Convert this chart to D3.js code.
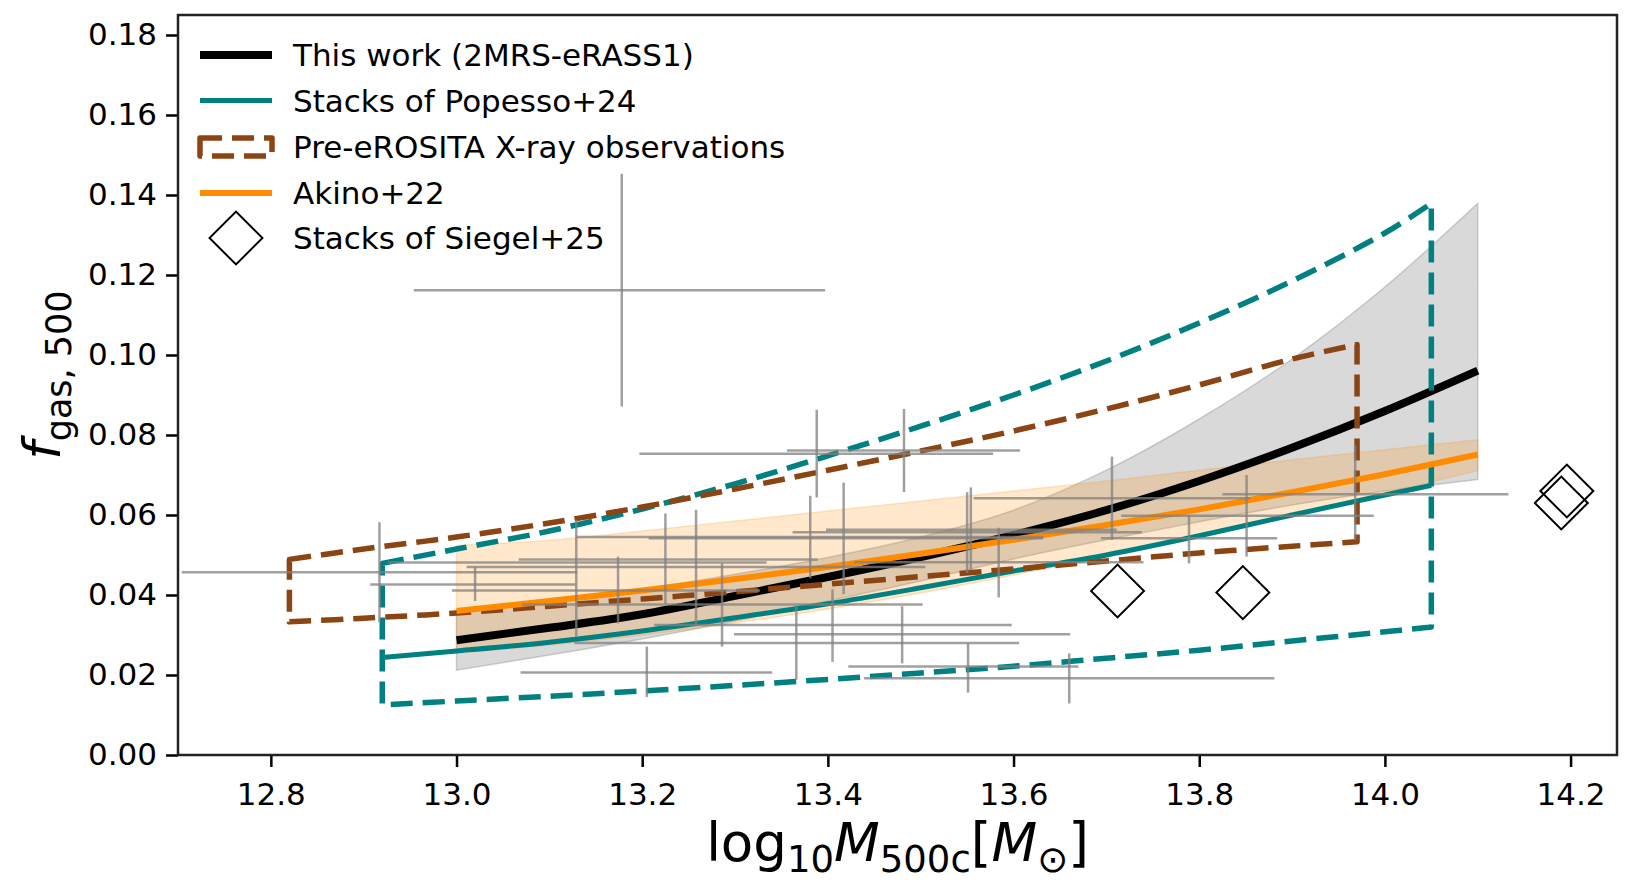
<!DOCTYPE html>
<html>
<head>
<meta charset="utf-8">
<script src="https://cdn.jsdelivr.net/npm/d3@7"></script>
<style>
body { margin: 0; background: #fff; }
svg text { font-family: "DejaVu Sans", sans-serif; }
</style>
</head>
<body>
<div id="chart"></div>
<script>
// ---- data ----
const xTicks = [12.8, 13.0, 13.2, 13.4, 13.6, 13.8, 14.0, 14.2];
const yTicks = [0.00, 0.02, 0.04, 0.06, 0.08, 0.10, 0.12, 0.14, 0.16, 0.18];

// this work (2MRS-eRASS1) best fit and band
const workMass = [13.0, 13.1, 13.2, 13.3, 13.4, 13.5, 13.6, 13.7, 13.8, 13.9, 14.0, 14.1];
const workFgas = [0.0287, 0.0318, 0.0352, 0.0398, 0.0445, 0.0495, 0.0550, 0.0612, 0.0685, 0.0768, 0.0860, 0.0961];
const workLo   = [0.0212, 0.0250, 0.0290, 0.0335, 0.0385, 0.0435, 0.0490, 0.0538, 0.0583, 0.0625, 0.0660, 0.0689];
const workHi   = [0.0360, 0.0385, 0.0415, 0.0452, 0.0494, 0.0545, 0.0612, 0.0712, 0.0840, 0.0990, 0.1170, 0.1379];

// Akino+22
const akinoMass = [13.0, 13.1, 13.2, 13.3, 13.4, 13.5, 13.6, 13.7, 13.8, 13.9, 14.0, 14.1];
const akinoFgas = [0.0360, 0.0385, 0.0411, 0.0440, 0.0470, 0.0503, 0.0538, 0.0575, 0.0614, 0.0657, 0.0702, 0.0751];
const akinoLo   = [0.0255, 0.0275, 0.0300, 0.0330, 0.0365, 0.0405, 0.0450, 0.0495, 0.0545, 0.0600, 0.0655, 0.0711];
const akinoHi   = [0.0524, 0.0537, 0.0560, 0.0585, 0.0610, 0.0635, 0.0660, 0.0685, 0.0712, 0.0738, 0.0763, 0.0788];

// stacks of Popesso+24: median and region
const popMass = [12.92, 13.0, 13.1, 13.2, 13.3, 13.4, 13.5, 13.6, 13.7, 13.8, 13.9, 14.0, 14.05];
const popFgas = [0.0244, 0.0260, 0.0282, 0.0310, 0.0343, 0.0378, 0.0418, 0.0460, 0.0500, 0.0548, 0.0600, 0.0650, 0.0674];
const popLo   = [0.0125, 0.0135, 0.0147, 0.0160, 0.0174, 0.0189, 0.0205, 0.0222, 0.0242, 0.0262, 0.0285, 0.0308, 0.0320];
const popHi   = [0.0479, 0.0515, 0.0560, 0.0615, 0.0678, 0.0748, 0.0822, 0.0900, 0.0985, 0.1080, 0.1185, 0.1305, 0.1379];

// pre-eROSITA X-ray observations region
const preMass = [12.82, 12.9, 13.0, 13.1, 13.2, 13.3, 13.4, 13.5, 13.6, 13.7, 13.8, 13.9, 13.97];
const preLo   = [0.0333, 0.0342, 0.0355, 0.0372, 0.0390, 0.0408, 0.0427, 0.0446, 0.0465, 0.0485, 0.0505, 0.0522, 0.0533];
const preHi   = [0.0489, 0.0515, 0.0545, 0.0580, 0.0620, 0.0665, 0.0712, 0.0760, 0.0810, 0.0865, 0.0925, 0.0990, 0.1026];

// individual systems (error bars)
const obsMass   = [13.178, 12.917, 13.129, 13.174, 13.225, 13.205, 13.258, 13.286, 13.381, 13.417, 13.388, 13.482, 13.550, 13.554, 13.584, 13.366, 13.405, 13.480, 13.551, 13.660, 13.706, 13.851, 13.789, 13.968, 13.020];
const obsMassLo = [12.954, 12.704, 12.926, 12.995, 13.067, 13.069, 13.011, 13.071, 13.129, 13.207, 13.197, 13.356, 13.362, 13.398, 13.428, 13.127, 13.213, 13.299, 13.422, 13.439, 13.557, 13.716, 13.694, 13.825, 12.907];
const obsMassHi = [13.397, 13.130, 13.334, 13.327, 13.389, 13.340, 13.505, 13.502, 13.632, 13.632, 13.578, 13.607, 13.738, 13.711, 13.740, 13.606, 13.598, 13.661, 13.670, 13.881, 13.855, 13.988, 13.884, 14.133, 13.128];
const obsFgas   = [0.1162, 0.0457, 0.0481, 0.0411, 0.0489, 0.0206, 0.0470, 0.0376, 0.0545, 0.0542, 0.0753, 0.0761, 0.0557, 0.0563, 0.0482, 0.0280, 0.0325, 0.0302, 0.0221, 0.0192, 0.0642, 0.0598, 0.0542, 0.0652, 0.0426];
const obsFgasLo = [0.0871, 0.0332, 0.0296, 0.0329, 0.0378, 0.0145, 0.0325, 0.0271, 0.0442, 0.0402, 0.0644, 0.0657, 0.0455, 0.0463, 0.0394, 0.0188, 0.0233, 0.0229, 0.0156, 0.0129, 0.0538, 0.0496, 0.0479, 0.0538, 0.0385];
const obsFgasHi = [0.1453, 0.0582, 0.0588, 0.0496, 0.0604, 0.0271, 0.0613, 0.0479, 0.0648, 0.0681, 0.0863, 0.0865, 0.0657, 0.0669, 0.0568, 0.0371, 0.0414, 0.0372, 0.0279, 0.0254, 0.0746, 0.0700, 0.0600, 0.0775, 0.0470];

// stacks of Siegel+25
const siegelMass = [13.712, 13.847, 14.190, 14.196];
const siegelFgas = [0.0410, 0.0406, 0.0630, 0.0660];

const legendLabels = ['This work (2MRS-eRASS1)', 'Stacks of Popesso+24', 'Pre-eROSITA X-ray observations', 'Akino+22', 'Stacks of Siegel+25'];

// ---- layout ----
const width = 1632, height = 885;
const margin = {top: 15, right: 15, bottom: 130, left: 178};
const fs = 31;

const svg = d3.select('#chart').append('svg')
  .attr('width', width)
  .attr('height', height);

const x = d3.scaleLinear().domain([12.7, 14.25]).range([margin.left, width - margin.right]);
const y = d3.scaleLinear().domain([0, 0.185]).range([height - margin.bottom, margin.top]);

const zip = (xs, ys) => xs.map((v, i) => [v, ys[i]]);
const line = d3.line().x(d => x(d[0])).y(d => y(d[1])).curve(d3.curveMonotoneX);
const smooth = d3.line().x(d => x(d[0])).y(d => y(d[1])).curve(d3.curveCatmullRom);
const band = d3.area().x(d => x(d[0])).y0(d => y(d[1])).y1(d => y(d[2])).curve(d3.curveMonotoneX);

// closed dashed region: smooth upper edge, straight sides, smooth lower edge
function regionPath(ms, lo, hi) {
  const top = smooth(zip(ms, hi));
  const bottom = smooth(zip(ms, lo).reverse());
  return top + bottom.replace(/^M/, 'L') + 'Z';
}

svg.append('clipPath').attr('id', 'plotclip')
  .append('rect')
  .attr('x', margin.left).attr('y', margin.top)
  .attr('width', width - margin.left - margin.right)
  .attr('height', height - margin.top - margin.bottom);

const plot = svg.append('g').attr('clip-path', 'url(#plotclip)');

// bands
plot.append('path')
  .datum(workMass.map((m, i) => [m, workLo[i], workHi[i]]))
  .attr('d', band)
  .style('fill', 'gray').style('fill-opacity', 0.3)
  .style('stroke', 'gray').style('stroke-opacity', 0.35).style('stroke-width', 1.5);

plot.append('path')
  .datum(akinoMass.map((m, i) => [m, akinoLo[i], akinoHi[i]]))
  .attr('d', band)
  .style('fill', 'darkorange').style('fill-opacity', 0.2)
  .style('stroke', 'darkorange').style('stroke-opacity', 0.2).style('stroke-width', 1.5);

// this work
plot.append('path')
  .datum(zip(workMass, workFgas))
  .attr('d', line)
  .style('fill', 'none').style('stroke', 'black').style('stroke-width', 8);

// Popesso median + dashed region
plot.append('path')
  .datum(zip(popMass, popFgas))
  .attr('d', line)
  .style('fill', 'none').style('stroke', 'teal').style('stroke-width', 5);

plot.append('path')
  .attr('d', regionPath(popMass, popLo, popHi))
  .style('fill', 'none').style('stroke', 'teal').style('stroke-width', 5.5)
  .style('stroke-dasharray', '22,10').style('stroke-linejoin', 'round');

// pre-eROSITA dashed region
plot.append('path')
  .attr('d', regionPath(preMass, preLo, preHi))
  .style('fill', 'none').style('stroke', 'saddlebrown').style('stroke-width', 5.5)
  .style('stroke-dasharray', '22,10').style('stroke-linejoin', 'round');

// Akino+22
plot.append('path')
  .datum(zip(akinoMass, akinoFgas))
  .attr('d', line)
  .style('fill', 'none').style('stroke', 'darkorange').style('stroke-width', 6);

// error bars
const bars = plot.append('g').attr('class', 'errorbars')
  .style('stroke', 'gray').style('stroke-opacity', 0.75).style('stroke-width', 2.5);
obsMass.forEach((m, i) => {
  bars.append('line')
    .attr('x1', x(obsMassLo[i])).attr('x2', x(obsMassHi[i]))
    .attr('y1', y(obsFgas[i])).attr('y2', y(obsFgas[i]));
  bars.append('line')
    .attr('x1', x(m)).attr('x2', x(m))
    .attr('y1', y(obsFgasLo[i])).attr('y2', y(obsFgasHi[i]));
});

// Siegel stacks
const diamond = d3.symbol().type(d3.symbolSquare).size(1400);
plot.selectAll('.siegel')
  .data(zip(siegelMass, siegelFgas))
  .enter().append('path')
  .attr('class', 'siegel')
  .attr('d', diamond)
  .attr('transform', d => `translate(${x(d[0])},${y(d[1])}) rotate(45)`)
  .style('fill', 'none').style('stroke', 'black').style('stroke-width', 2);

// ---- axes ----
const xAxis = svg.append('g')
  .attr('transform', `translate(0,${height - margin.bottom})`)
  .call(d3.axisBottom(x).tickValues(xTicks).tickFormat(d3.format('.1f')).tickSize(12).tickPadding(16));
const yAxis = svg.append('g')
  .attr('transform', `translate(${margin.left},0)`)
  .call(d3.axisLeft(y).tickValues(yTicks).tickFormat(d3.format('.2f')).tickSize(12).tickPadding(9));
[xAxis, yAxis].forEach(a => {
  a.select('.domain').remove();
  a.selectAll('line').style('stroke', 'black').style('stroke-width', 2.5);
  a.selectAll('text').style('font-size', fs + 'px').style('fill', 'black');
});

// frame
svg.append('rect')
  .attr('x', margin.left).attr('y', margin.top)
  .attr('width', width - margin.left - margin.right)
  .attr('height', height - margin.top - margin.bottom)
  .style('fill', 'none').style('stroke', '#222').style('stroke-width', 2.5);

// axis labels
const xl = svg.append('text')
  .attr('x', (margin.left + width - margin.right) / 2)
  .attr('y', 861)
  .attr('text-anchor', 'middle')
  .style('font-size', '53px');
xl.append('tspan').text('log');
xl.append('tspan').attr('dy', 11).style('font-size', '37px').text('10');
xl.append('tspan').attr('dy', -11).style('font-style', 'italic').text('M');
xl.append('tspan').attr('dy', 11).style('font-size', '37px').text('500c');
xl.append('tspan').attr('dy', -11).text('[');
xl.append('tspan').style('font-style', 'italic').text('M');
xl.append('tspan').attr('dy', 11).style('font-size', '37px').text('⊙');
xl.append('tspan').attr('dy', -11).text(']');

const yl = svg.append('text')
  .attr('transform', `translate(60,${(margin.top + height - margin.bottom) / 2 - 10}) rotate(-90)`)
  .attr('text-anchor', 'middle')
  .style('font-size', '52px');
yl.append('tspan').style('font-style', 'italic').text('f');
yl.append('tspan').attr('dy', 11).style('font-size', '35px').text('gas, 500');

// ---- legend ----
const legend = svg.append('g').attr('class', 'legend');
const rowY = [55, 100.5, 147, 193, 238];
const lx0 = 200, lx1 = 272, tx = 293;

legend.append('line').attr('x1', lx0).attr('x2', lx1).attr('y1', rowY[0]).attr('y2', rowY[0])
  .style('stroke', 'black').style('stroke-width', 8);
legend.append('line').attr('x1', lx0).attr('x2', lx1).attr('y1', rowY[1]).attr('y2', rowY[1])
  .style('stroke', 'teal').style('stroke-width', 5);
legend.append('rect').attr('x', lx0).attr('y', rowY[2] - 9).attr('width', lx1 - lx0).attr('height', 18)
  .style('fill', 'none').style('stroke', 'saddlebrown').style('stroke-width', 5.5)
  .style('stroke-dasharray', '22,10').style('stroke-linejoin', 'round');
legend.append('line').attr('x1', lx0).attr('x2', lx1).attr('y1', rowY[3]).attr('y2', rowY[3])
  .style('stroke', 'darkorange').style('stroke-width', 6);
legend.append('path').attr('d', diamond)
  .attr('transform', `translate(${(lx0 + lx1) / 2},${rowY[4]}) rotate(45)`)
  .style('fill', 'none').style('stroke', 'black').style('stroke-width', 2);

legend.selectAll('.ltext')
  .data(legendLabels)
  .enter().append('text')
  .attr('class', 'ltext')
  .attr('x', tx)
  .attr('y', (d, i) => rowY[i] + 11)
  .style('font-size', fs + 'px')
  .text(d => d);
</script>
</body>
</html>
